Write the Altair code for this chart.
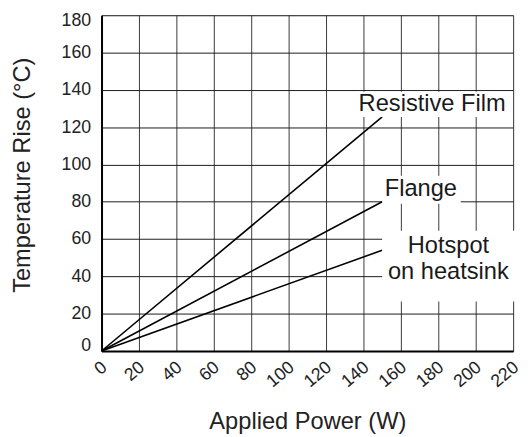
import altair as alt
import pandas as pd

# ---- data ----
series = ["Resistive Film", "Flange", "Hotspot on heatsink"]
power_start = [0, 0, 0]
power_end = [150, 150, 150]
temp_start = [0, 0, 0]
temp_end = [125.5, 80, 54]

x_ticks = list(range(0, 221, 20))
y_ticks = list(range(0, 181, 20))

label_text = ["Resistive Film", "Flange", "Hotspot", "on heatsink"]
label_x = [176.7, 170.7, 185.4, 185.4]
label_y = [128.6, 83.3, 52.6, 38.4]

box_x = [136.5, 150, 150]
box_x2 = [218, 192, 224]
box_y = [125.5, 79, 26.5]
box_y2 = [139, 94, 64.5]

FONT = "Liberation Sans"

lines_df = pd.DataFrame({
    "series": series * 2,
    "power": power_start + power_end,
    "temp": temp_start + temp_end,
})
labels_df = pd.DataFrame({"text": label_text, "x": label_x, "y": label_y})
boxes_df = pd.DataFrame({"x": box_x, "x2": box_x2, "y": box_y, "y2": box_y2})

xscale = alt.Scale(domain=[0, 220], nice=False)
yscale = alt.Scale(domain=[0, 180], nice=False)

xaxis = alt.Axis(
    values=x_ticks, grid=True, gridColor="#3a3a3a", gridWidth=1,
    domain=True, domainColor="black", domainWidth=2,
    ticks=False, tickSize=0,
    labelAngle=320, labelAlign="right", labelBaseline="middle",
    labelPadding=14, labelOffset=3, labelFont=FONT, labelFontSize=18,
    labelColor="#222", labelFlush=False, labelOverlap=False,
    title="Applied Power (W)", titleFont=FONT, titleFontSize=24,
    titleFontWeight="normal", titleColor="#222", titleY=79,
    titleBaseline="alphabetic",
)
yaxis = alt.Axis(
    values=y_ticks, grid=True, gridColor="#1a1a1a", gridWidth=1,
    domain=True, domainColor="black", domainWidth=2,
    ticks=False, tickSize=0,
    labelPadding=11, labelFont=FONT, labelFontSize=18, labelColor="#222",
    labelFlush=True, labelFlushOffset=3.5, labelOverlap=False,
    title="Temperature Rise (°C)", titleFont=FONT, titleFontSize=24,
    titleFontWeight="normal", titleColor="#222", titleAngle=270,
    titleX=-73, titleY=162, titleAlign="center", titleBaseline="alphabetic",
)

lines = alt.Chart(lines_df).mark_line(color="black", strokeWidth=1.6).encode(
    x=alt.X("power:Q", scale=xscale, axis=xaxis),
    y=alt.Y("temp:Q", scale=yscale, axis=yaxis),
    detail="series:N",
)

boxes = alt.Chart(boxes_df).mark_rect(color="white", clip=False).encode(
    x=alt.X("x:Q", scale=xscale, axis=xaxis),
    x2="x2:Q",
    y=alt.Y("y:Q", scale=yscale, axis=yaxis),
    y2="y2:Q",
)

texts = alt.Chart(labels_df).mark_text(
    font=FONT, fontSize=24, align="center", baseline="alphabetic", color="#1a1a1a"
).encode(
    x=alt.X("x:Q", scale=xscale, axis=xaxis),
    y=alt.Y("y:Q", scale=yscale, axis=yaxis),
    text="text:N",
)

chart = alt.layer(lines, boxes, texts).properties(
    width=418,
    height=341,
    autosize=alt.AutoSizeParams(type="none"),
    padding={"left": 95, "top": 4, "right": 8, "bottom": 84},
).configure_view(
    stroke="black", strokeWidth=1.5
).configure(background="white")

chart.save("out.html", embed_options={"renderer": "svg", "actions": False})
